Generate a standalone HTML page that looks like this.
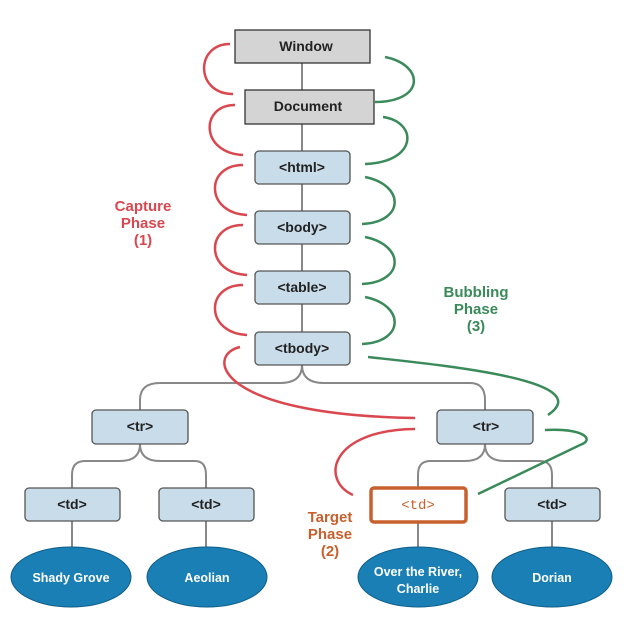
<!DOCTYPE html><html><head><style>body{margin:0;background:#fff}svg{display:block}text{font-family:"Liberation Sans",sans-serif;font-weight:bold}</style></head><body>
<svg width="642" height="630" viewBox="0 0 642 630">
<g fill="none" stroke="#888" stroke-width="2">
<path d="M302 63V90M302 124V151M302 184V211M302 244V271M302 304V332"/>
<path d="M302 365Q302 383 280 383H160Q140 383 140 400V410M302 365Q302 383 324 383H470Q485 383 485 400V410"/>
<path d="M140 444Q140 461 120 461H85Q72 461 72 475V488M140 444Q140 461 160 461H195Q206 461 206 475V488"/>
<path d="M485 444Q485 461 465 461H430Q418 461 418 475V488M485 444Q485 461 505 461H540Q552 461 552 475V488"/>
<path d="M418 521V548M552 521V548M72 521V548M206 521V548"/>
</g>
<g fill="none" stroke="#d9474f" stroke-width="2.5">
<path d="M230 44C195 44 195 94 233 94"/>
<path d="M235 105C200 105 200 153 243 155"/>
<path d="M243 165C205 165 205 213 247 215"/>
<path d="M243 225C205 225 205 273 247 275"/>
<path d="M243 285C205 285 205 333 247 335"/>
<path d="M240 347C205 355 215 415 415 418"/>
<path d="M415 429C330 430 320 480 353 495"/>
</g>
<g fill="none" stroke="#3a8a5a" stroke-width="2.5">
<path d="M385 57C425 65 425 102 375 102"/>
<path d="M383 117C418 122 418 162 365 164"/>
<path d="M365 177C405 185 405 222 362 224"/>
<path d="M365 237C405 245 405 282 362 284"/>
<path d="M365 297C405 305 405 342 362 344"/>
<path d="M368 357C440 365 600 380 548 415"/>
<path d="M545 430C585 428 595 440 580 445L478 494"/>
</g>
<g stroke="#333" stroke-width="1.3">
<rect x="235" y="30" width="135" height="33" fill="#d4d4d4"/>
<rect x="245" y="90" width="129" height="34" fill="#d4d4d4"/>
<g fill="#c9dcea" stroke="#555">
<rect x="255" y="151" width="95" height="33" rx="4"/>
<rect x="255" y="211" width="95" height="33" rx="4"/>
<rect x="255" y="271" width="95" height="33" rx="4"/>
<rect x="255" y="332" width="95" height="33" rx="4"/>
<rect x="92" y="410" width="96" height="34" rx="4"/>
<rect x="437" y="410" width="96" height="34" rx="4"/>
<rect x="25" y="488" width="95" height="33" rx="4"/>
<rect x="159" y="488" width="95" height="33" rx="4"/>
<rect x="505" y="488" width="95" height="33" rx="4"/>
</g>
</g>
<rect x="371" y="488" width="95" height="34" rx="3" fill="#fff" stroke="#c8602e" stroke-width="3.5"/>
<g fill="#1a7fb5" stroke="#0f5d88" stroke-width="1"><ellipse cx="71" cy="577" rx="60" ry="30"/><ellipse cx="207" cy="577" rx="60" ry="30"/><ellipse cx="418" cy="577" rx="60" ry="30"/><ellipse cx="552" cy="577" rx="60" ry="30"/></g>
<g font-size="14" fill="#222" text-anchor="middle">
<text x="306" y="51">Window</text><text x="308" y="111">Document</text>
<text x="302" y="172">&lt;html&gt;</text><text x="302" y="232">&lt;body&gt;</text>
<text x="302" y="292">&lt;table&gt;</text><text x="302" y="353">&lt;tbody&gt;</text>
<text x="140" y="431">&lt;tr&gt;</text><text x="486" y="431">&lt;tr&gt;</text>
<text x="72" y="509">&lt;td&gt;</text><text x="206" y="509">&lt;td&gt;</text><text x="552" y="509">&lt;td&gt;</text>
</g>
<text x="418" y="509" text-anchor="middle" font-size="14" fill="#c8602e" style="font-family:'Liberation Mono',monospace;font-weight:normal">&lt;td&gt;</text>
<g font-size="12.5" fill="#fff" text-anchor="middle">
<text x="71" y="582">Shady Grove</text><text x="207" y="582">Aeolian</text>
<text x="418" y="576">Over the River,</text><text x="418" y="593">Charlie</text>
<text x="552" y="582">Dorian</text></g>
<g font-size="15" text-anchor="middle">
<g fill="#d9474f"><text x="143" y="211">Capture</text><text x="143" y="228">Phase</text><text x="143" y="245">(1)</text></g>
<g fill="#3a8a5a"><text x="476" y="297">Bubbling</text><text x="476" y="314">Phase</text><text x="476" y="331">(3)</text></g>
<g fill="#c8602e"><text x="330" y="522">Target</text><text x="330" y="539">Phase</text><text x="330" y="556">(2)</text></g>
</g>
</svg></body></html>
